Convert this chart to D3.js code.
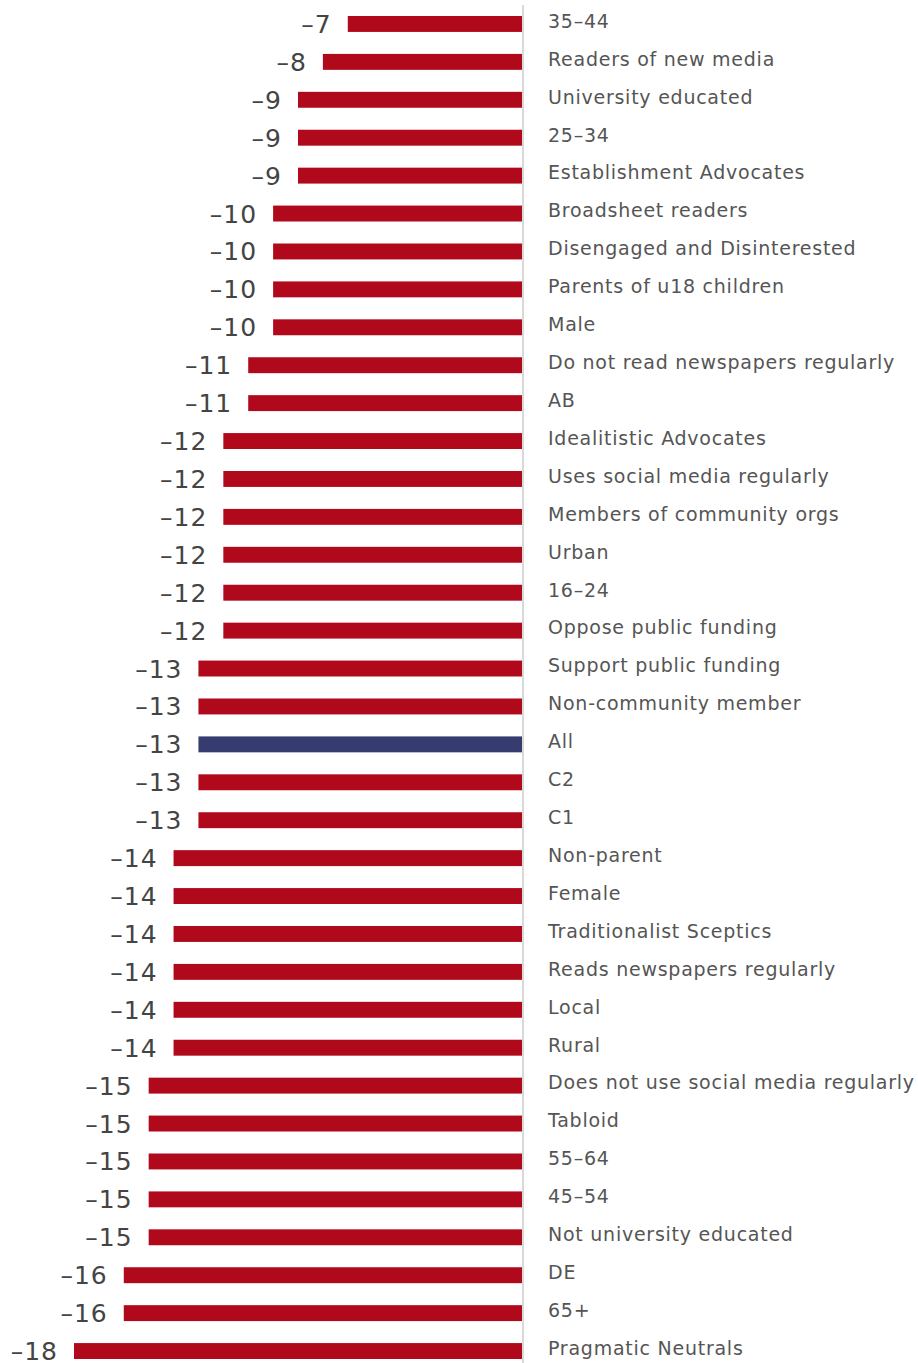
<!DOCTYPE html>
<html>
<head>
<meta charset="utf-8">
<script src="https://cdn.jsdelivr.net/npm/d3@7"></script>
<style>
  html, body { margin: 0; padding: 0; background: #fff; }
  svg { display: block; }
</style>
</head>
<body>
<svg id="chart" width="918" height="1363"></svg>
<script>
// Net change by group
const categories = [
  "35–44", "Readers of new media", "University educated", "25–34",
  "Establishment Advocates", "Broadsheet readers", "Disengaged and Disinterested",
  "Parents of u18 children", "Male", "Do not read newspapers regularly", "AB",
  "Idealitistic Advocates", "Uses social media regularly", "Members of community orgs",
  "Urban", "16–24", "Oppose public funding", "Support public funding",
  "Non-community member", "All", "C2", "C1", "Non-parent", "Female",
  "Traditionalist Sceptics", "Reads newspapers regularly", "Local", "Rural",
  "Does not use social media regularly", "Tabloid", "55–64", "45–54",
  "Not university educated", "DE", "65+", "Pragmatic Neutrals"
];
const values = [
  -7, -8, -9, -9, -9, -10, -10, -10, -10, -11, -11,
  -12, -12, -12, -12, -12, -12, -13, -13, -13, -13, -13,
  -14, -14, -14, -14, -14, -14, -15, -15, -15, -15, -15,
  -16, -16, -18
];
const highlight = ["All"];

const data = categories.map((c, i) => ({ name: c, value: values[i] }));

const svg = d3.select("#chart");
const zeroX = 522;

const x = d3.scaleLinear()
  .domain([-18, 0])
  .range([74, zeroX]);

const y = d3.scaleBand()
  .domain(categories)
  .range([5, 1370])
  .paddingInner(0.58)
  .paddingOuter(0.29);

// bars
svg.append("g")
  .selectAll("rect")
  .data(data)
  .join("rect")
  .attr("x", d => x(d.value))
  .attr("y", d => y(d.name))
  .attr("width", d => x(0) - x(d.value))
  .attr("height", y.bandwidth())
  .attr("fill", d => highlight.includes(d.name) ? "#363b70" : "#b0091c");

// zero axis line
svg.append("line")
  .attr("x1", zeroX + 1).attr("x2", zeroX + 1)
  .attr("y1", 5).attr("y2", 1363)
  .attr("stroke", "#d9d9d9")
  .attr("stroke-width", 2);

// value labels
svg.append("g")
  .selectAll("text")
  .data(data)
  .join("text")
  .attr("x", d => x(d.value) - 16)
  .attr("y", d => y(d.name) + y.bandwidth() / 2)
  .attr("dy", "0.36em")
  .attr("text-anchor", "end")
  .attr("font-family", "DejaVu Sans, sans-serif")
  .attr("font-size", 25)
  .attr("letter-spacing", 1)
  .attr("fill", "#444")
  .text(d => "–" + Math.abs(d.value));

// category labels
svg.append("g")
  .selectAll("text")
  .data(data)
  .join("text")
  .attr("x", 548)
  .attr("y", d => y(d.name) + y.bandwidth() / 2 - 3)
  .attr("dy", "0.36em")
  .attr("font-family", "DejaVu Sans, sans-serif")
  .attr("font-size", 19)
  .attr("letter-spacing", 0.75)
  .attr("fill", "#555")
  .text(d => d.name);
</script>
</body>
</html>
